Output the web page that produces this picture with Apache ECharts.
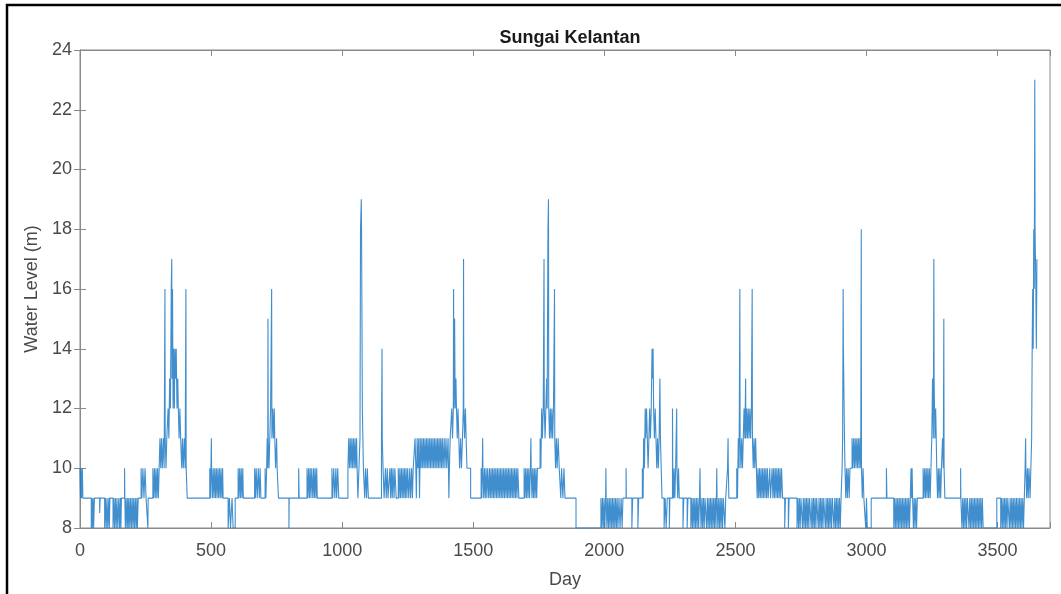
<!DOCTYPE html>
<html>
<head>
<meta charset="utf-8">
<script src="https://cdn.jsdelivr.net/npm/echarts@6/dist/echarts.min.js"></script>
<style>
html,body{margin:0;padding:0;background:#fff;}
#chart{width:1061px;height:594px;}
</style>
</head>
<body>
<div id="chart"></div>
<script>
// Daily water level readings, given as [day, level] change points (level holds until next point)
const title = 'Sungai Kelantan';
const xName = 'Day';
const yName = 'Water Level (m)';
const xTicks = [0, 500, 1000, 1500, 2000, 2500, 3000, 3500];
const yTicks = [8, 10, 12, 14, 16, 18, 20, 22, 24];

const period1 = [[0,10],[2,9],[4,10],[6,9],[9,10],[11,9],
 [43,8],[45,9],[47,8],[50,9],[52,8],[55,9],[75,8.5],[77,9],
 [94,8],[97,9],[100,8],[103,9],[106,8],[110,9],[112,8],[114,9],
 [126,8],[129,9],[132,8],[135,9],[138,8],[141,9],[144,8],[148,9],[151,8],[154,9],[156,8],[158,9],
 [170,10],[171,9],[173,8],[176,9],[179,8],[182,9],[184,8],[187,9],[190,8],[193,9],[196,8],[199,9],[202,8],[205,9],[208,8],[211,9],[214,8],[217,9],[219,8],[222,9],
 [233,10],[236,9],[240,10],[244,9],[248,10],[252,9],[259,8],[260,9],
 [278,10],[281,9],[284,10],[287,9],[290,10],[293,9],[296,10],[299,9],[302,10],
 [305,11],[308,10],[311,11],[314,10],[318,11],[321,10],[324,16],[325,11],[328,10],[331,11],
 [336,12],[339,11],[342,13],[345,12],[348,16],[350,17],[351,13],[353,16],[355,12],[357,14],[360,12],[362,14],[365,13],[367,14],[370,12],[373,13],[375,12],[378,11],[381,12],[384,11],[388,10],[391,11],[394,10],[398,11],[401,10],
 [404,16],[405,10],[409,9]];

const period2 = [[495,10],[498,9],[501,11],[502,10],[505,9],[508,10],[511,9],[514,10],[517,9],[520,10],[523,9],[526,10],[529,9],[532,10],[535,9],[538,10],[541,9],[544,10],[546,9],
 [565,8],[570,9],[574,8],[580,9],[584,8],[592,9],
 [603,10],[606,9],[609,10],[612,9],[615,10],[618,9],[621,10],[623,9],
 [666,10],[669,9],[672,10],[676,9],[680,10],[684,9],[687,10],[690,9],
 [706,10],[709,9],[712,10],[714,11],[716,10],[717,15],[718,11],[721,10],[724,11],[727,12],[731,16],[732,11],[735,12],[738,11],[741,12],[743,11],[746,10],[750,11],[752,10],[757,9]];

const period3 = [[797,8],[798,9],[834,10],[836,9],
 [866,10],[869,9],[872,10],[875,9],[878,10],[881,9],[884,10],[888,9],[891,10],[894,9],[897,10],[900,9],[903,10],[905,9],
 [961,10],[964,9],[968,10],[972,9],[976,10],[979,9],[983,10],[987,9],
 [1022,10],[1025,11],[1028,10],[1031,11],[1034,10],[1037,11],[1040,10],[1043,11],[1046,10],[1049,11],[1052,10],[1055,11],[1057,10],[1060,9],[1064,10],
 [1068,11],[1070,18],[1073,19],[1074,18],[1077,12],[1079,11],[1081,10],[1086,9],[1089,10],[1093,9],[1096,10],[1100,9]];

const period4 = [[1150,11],[1152,14],[1153,11],[1156,10],[1160,9],
 [1165,10],[1168,9],[1172,10],[1175,9],[1182,10],[1185,9],[1188,10],[1191,9],[1194,10],[1198,9],[1201,10],[1206,9],[1214,10],[1217,9],[1220,10],[1223,9],[1226,10],[1229,9],[1232,10],[1235,9],[1238,10],[1241,9],[1244,10],[1247,9],[1250,10],[1254,9],[1258,10],[1261,9],[1265,10],[1268,9],[1271,10],
 [1278,11],[1281,10],[1283,9],[1286,11],[1289,10],[1292,11],[1295,9],[1298,11],[1301,10],[1304,11],[1307,10],[1310,11],[1313,10],[1316,11],[1319,10],[1322,11],[1325,10],[1328,11],[1331,10],[1334,11],[1337,10],[1340,11],[1343,10],[1346,11],[1349,10],[1352,11],[1355,10],[1358,11],[1361,10],[1364,11],[1367,10],[1370,11],[1373,10],[1376,11],[1379,10],[1382,11],[1385,10],[1389,11],[1392,10],[1396,11],[1399,10],[1404,11],
 [1407,9],[1409,10],[1412,11],
 [1418,12],[1421,11],[1424,12],[1425,16],[1426,12],[1429,15],[1431,12],[1434,13],[1436,12],[1439,11],[1442,12],[1445,11],[1448,10],[1452,11],[1455,10],[1459,11],[1462,12],[1463,17],[1464,12],[1467,11],[1470,12],[1473,11],[1476,10],[1490,9]];

const period5 = [[1530,10],[1533,9],[1536,11],[1537,10],[1540,9],[1543,10],
 [1546,9],[1549,10],[1552,9],[1555,10],[1559,9],[1562,10],[1565,9],[1568,10],[1571,9],[1574,10],[1577,9],[1580,10],[1583,9],[1586,10],[1589,9],[1592,10],[1595,9],[1598,10],[1601,9],[1604,10],[1607,9],[1610,10],[1613,9],[1616,10],[1619,9],[1622,10],[1625,9],[1628,10],[1631,9],[1634,10],[1637,9],[1640,10],[1643,9],[1646,10],[1649,9],[1652,10],[1655,9],[1658,10],[1661,9],[1664,10],[1667,9],[1670,10],[1674,9],
 [1694,10],[1697,9],[1700,10],[1703,9],[1706,10],[1709,9],[1712,10],[1715,9],[1718,10],[1720,11],[1721,10],[1724,9],[1727,10],[1730,9],[1733,10],[1736,9],[1739,10],[1742,9],[1745,10],
 [1755,11],[1758,10],[1761,12],[1764,11],[1767,12],[1770,17],[1771,12],[1774,11],[1777,12],[1780,13],[1782,12],[1785,18],[1787,19],[1788,12],[1791,11],[1794,12],[1797,11],[1800,12],[1803,11],[1806,12],[1810,16],[1811,11],[1814,10],[1817,11],[1820,10],[1824,11],[1828,10],[1834,9],[1837,10],[1842,9],[1846,10],[1850,9],[1892,8]];

const period6 = [[1987,9],[1990,8],[1993,9],[1996,8],[1999,9],[2002,8],[2005,9],[2006,10],[2007,9],[2010,8],[2013,9],[2016,8],[2019,9],[2022,8],[2025,9],[2028,8],[2031,9],[2034,8],[2037,9],[2040,8],[2043,9],[2046,8],[2049,9],[2052,8],[2056,9],[2060,8],[2064,9],[2068,8],[2071,9],
 [2083,10],[2084,9],[2105,8],[2108,9],[2128,8],[2131,9],
 [2145,10],[2148,9],[2150,11],[2153,10],[2156,12],[2158,11],[2161,12],[2164,11],[2167,10],[2170,11],[2173,12],[2176,11],[2179,12],[2182,14],[2184,13],[2186,14],[2188,12],[2191,11],[2194,12],[2197,11],[2200,10],[2203,11],[2206,10],[2209,11],[2212,13],[2214,11],[2217,10],[2220,9]];

const period7 = [[2228,8],[2232,9],[2236,8],[2240,9],[2248,8],[2250,9],
 [2260,12],[2261,10],[2264,9],[2266,10],[2269,9],[2272,10],[2276,12],[2277,10],[2280,9],[2283,10],[2286,9],
 [2300,8],[2303,9],[2316,8],[2319,9],[2330,8],[2333,9],[2336,8],[2339,9],[2342,8],[2345,9],[2348,8],[2351,9],[2354,8],[2357,9],[2360,8],[2363,9],[2365,10],[2366,9],[2369,8],[2372,9],[2375,8],[2378,9],[2381,8],[2384,9],[2390,8],[2393,9],[2396,8],[2399,9],[2402,8],[2405,9],[2408,8],[2411,9],[2414,8],[2417,9],[2420,8],[2423,9],[2426,8],[2429,10],[2430,9],[2433,8],[2436,9],[2439,8],[2442,9],[2445,8],[2448,9],[2451,8],[2454,9],[2460,8],[2463,9],
 [2470,10],[2472,11],[2473,10],[2475,9],
 [2505,10],[2508,9],[2511,11],[2514,10],[2517,16],[2518,11],[2521,10],[2524,11],[2527,10],[2530,11],[2533,12],[2536,11],[2539,13],[2540,11],[2543,12],[2546,11],[2549,12],[2552,11],[2555,12],[2558,11],[2561,12],[2564,16],[2565,11],[2568,10],[2571,11],[2574,10],[2577,11],[2580,10]];

const period8 = [[2583,9],[2586,10],[2589,9],[2592,10],[2595,9],[2598,10],[2601,9],[2604,10],[2607,9],[2610,10],[2613,9],[2616,10],[2619,9],[2622,10],[2625,9],[2631,10],[2634,9],[2640,10],[2643,9],[2646,10],[2649,9],[2652,10],[2655,9],[2658,10],[2661,9],[2664,10],[2667,9],[2670,10],[2673,9],[2676,10],[2680,9],
 [2688,8],[2691,9],[2702,8],[2705,9],
 [2735,8],[2738,9],[2741,8],[2744,9],[2747,8],[2750,9],[2756,8],[2759,9],[2762,8],[2765,9],[2768,8],[2771,9],[2774,8],[2777,9],[2780,8],[2783,9],[2789,8],[2792,9],[2795,8],[2798,9],[2801,8],[2804,9],[2807,8],[2810,9],[2816,8],[2819,9],[2822,8],[2825,9],[2828,8],[2831,9],[2834,8],[2837,9],[2843,8],[2846,9],[2849,8],[2852,9],[2855,8],[2858,9],[2861,8],[2864,9],[2867,8],[2870,9],[2876,8],[2879,9],[2882,8],[2885,9],[2888,8],[2891,9],[2894,8],[2897,9],[2900,8],[2903,9],
 [2907,10],[2909,11],[2911,16],[2912,14],[2915,14],[2916,11],[2918,10],[2921,9],[2924,10],[2927,9],[2930,10],[2934,9],[2937,10],
 [2945,11],[2948,10],[2951,11],[2954,10],[2957,11],[2960,10],[2963,11],[2966,10],[2969,11],[2972,10],[2975,11],[2978,10],[2980,18],[2981,10],[2984,9],[2987,10],[2990,9]];

const period9 = [[2997,8],[3000,9],[3003,8],[3018,9],[3076,10],[3078,9],
 [3104,8],[3107,9],[3110,8],[3113,9],[3116,8],[3119,9],[3122,8],[3125,9],[3128,8],[3131,9],[3134,8],[3137,9],[3140,8],[3143,9],[3146,8],[3149,9],[3152,8],[3155,9],[3158,8],[3161,9],[3164,8],[3167,9],[3170,10],[3172,9],[3174,10],[3176,9],[3179,8],[3182,9],[3185,8],[3188,9],[3191,8],[3194,9],
 [3216,10],[3219,9],[3222,10],[3225,9],[3228,10],[3231,9],[3234,10],[3237,9],[3240,10],[3243,9],[3246,10],[3249,11],[3252,13],[3255,11],[3257,17],[3258,13],[3261,11],[3264,12],[3266,11],[3268,10],[3271,9],[3274,10],[3277,9],[3280,10],[3283,9],[3286,10],[3290,11],[3293,10],[3295,15],[3296,10],[3299,9]];

const period10 = [[3359,10],[3360,9],
 [3364,8],[3367,9],[3370,8],[3373,9],[3376,8],[3379,9],[3382,8],[3385,9],[3391,8],[3394,9],[3397,8],[3400,9],[3403,8],[3406,9],[3409,8],[3412,9],[3415,8],[3418,9],[3421,8],[3424,9],[3427,8],[3430,9],[3433,8],[3436,9],[3439,8],[3442,9],[3445,8],
 [3497,9],
 [3512,8],[3515,9],[3518,8],[3521,9],[3524,8],[3527,9],[3530,8],[3533,9],[3536,8],[3539,9],[3545,8],[3548,9],[3551,8],[3554,9],[3557,8],[3560,9],[3563,8],[3566,9],[3569,8],[3572,9],[3575,8],[3578,9],[3581,8],[3584,9],[3587,8],[3590,9],[3593,8],[3596,9],[3599,8],[3602,9],
 [3605,10],[3607,11],[3608,10],[3611,9],[3614,10],[3617,9],[3620,10],[3624,9],[3627,10],[3630,11],[3632,14],[3634,16],[3636,14],[3638,18],[3640,16],[3642,23],[3643,18],[3646,16],[3648,14],[3650,17]];

const levels = [].concat(period1, period2, period3, period4, period5, period6, period7, period8, period9, period10);

const chart = echarts.init(document.getElementById('chart'), null, {renderer: 'canvas'});
const FONT = '"Liberation Sans", Arial, Helvetica, sans-serif';
const axisCol = '#8a8a8a';
const labelCol = '#4a4a4a';

chart.setOption({
  animation: false,
  backgroundColor: '#ffffff',
  title: {
    text: title, left: 565, top: 24, textAlign: 'center',
    textStyle: {fontFamily: FONT, fontSize: 18, fontWeight: 'bold', color: '#1a1a1a'}
  },
  grid: {left: 80, right: 11, top: 50, bottom: 66, show: true, borderColor: axisCol, borderWidth: 1},
  xAxis: [{
    type: 'value', min: 0, max: 3700, interval: 500,
    name: xName, nameLocation: 'middle', nameGap: 43,
    nameTextStyle: {fontFamily: FONT, fontSize: 18, color: labelCol},
    axisLine: {show: true, lineStyle: {color: axisCol}},
    axisTick: {show: true, inside: true, length: 6, lineStyle: {color: axisCol}},
    axisLabel: {fontFamily: FONT, fontSize: 18, color: labelCol, margin: 14,
      formatter: v => xTicks.indexOf(v) >= 0 ? String(v) : ''},
    splitLine: {show: false}
  }, {
    type: 'value', min: 0, max: 3700, interval: 500, position: 'top',
    axisLine: {show: true, lineStyle: {color: axisCol}},
    axisTick: {show: true, inside: true, length: 6, lineStyle: {color: axisCol}},
    axisLabel: {show: false}, splitLine: {show: false}
  }],
  yAxis: [{
    type: 'value', min: 8, max: 24, interval: 2,
    name: yName, nameLocation: 'middle', nameGap: 38, nameRotate: 90,
    nameTextStyle: {fontFamily: FONT, fontSize: 18, color: labelCol},
    axisLine: {show: true, lineStyle: {color: axisCol}},
    axisTick: {show: true, inside: true, length: 6, lineStyle: {color: axisCol}},
    axisLabel: {fontFamily: FONT, fontSize: 18, color: labelCol, margin: 8,
      formatter: v => yTicks.indexOf(v) >= 0 ? String(v) : ''},
    splitLine: {show: false}
  }, {
    type: 'value', min: 8, max: 24, interval: 2, position: 'right',
    axisLine: {show: true, lineStyle: {color: axisCol}},
    axisTick: {show: true, inside: true, length: 6, lineStyle: {color: axisCol}},
    axisLabel: {show: false}, splitLine: {show: false}
  }],
  series: [{
    type: 'line', data: levels, step: 'end', showSymbol: false, symbol: 'none',
    sampling: false, xAxisIndex: 0, yAxisIndex: 0,
    lineStyle: {color: '#1f7ac4', width: 1.1, opacity: 0.85}
  }],
  graphic: [{
    type: 'rect', silent: true, z: 100,
    shape: {x: 7, y: 5, width: 1120, height: 700},
    style: {fill: null, stroke: '#000', lineWidth: 2.5}
  }]
});
</script>
</body>
</html>
